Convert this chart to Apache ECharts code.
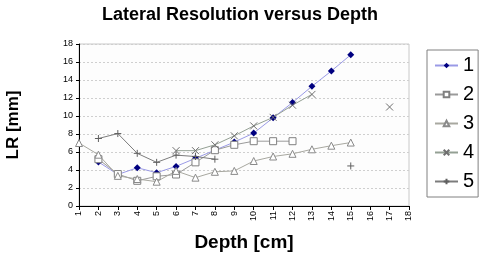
<!DOCTYPE html>
<html><head><meta charset="utf-8">
<script src="https://cdn.jsdelivr.net/npm/echarts@6/dist/echarts.min.js"></script>
<style>html,body{margin:0;padding:0;background:#fff}#c{width:480px;height:254px}</style>
</head><body><div id="c"></div>
<script>
var depth = [1,2,3,4,5,6,7,8,9,10,11,12,13,14,15,16,17,18];
var s1 = [null,4.9,3.5,4.25,3.7,4.4,5.3,6.2,7.1,8.1,9.8,11.5,13.3,15.0,16.8,null,null,null];
var s2 = [null,5.2,3.55,2.8,3.3,3.5,4.85,6.2,6.8,7.2,7.2,7.2,null,null,null,null,null,null];
var s3 = [7.0,5.7,3.35,3.0,2.7,3.9,3.15,3.8,3.9,5.0,5.5,5.8,6.3,6.7,7.05,null,null,null];
var s4 = [null,null,null,null,null,6.15,6.15,6.8,7.8,8.9,9.85,11.2,12.4,null,null,null,11.0,null];
var s5 = [null,7.5,8.05,5.85,4.85,5.65,5.5,5.2,null,null,null,null,null,null,4.45,null,null,null];
var seriesNames = ['1','2','3','4','5'];
var yTicks = [0,2,4,6,8,10,12,14,16,18];

function pairs(arr){ return depth.map(function(d,i){ return [d, arr[i]==null ? '-' : arr[i]]; }); }

var crossPath = 'path://M0,0L10,10M10,0L0,10';
var plusPath = 'path://M5,0L5,10M0,5L10,5';

var chart = echarts.init(document.getElementById('c'), null, {renderer:'canvas'});
chart.setOption({
  animation:false,
  backgroundColor:'#fff',
  title:{text:'Lateral Resolution versus Depth', left:'center', top:1,
    textStyle:{fontFamily:'Liberation Sans', fontWeight:'bold', fontSize:18, color:'#000'}},
  grid:{left:79, right:71, top:44, bottom:48, show:true, borderColor:'#c8c8c8', borderWidth:1,
    backgroundColor:'#fdfdfd', containLabel:false, outerBoundsMode:'none'},
  legend:{orient:'vertical', left:427, top:50, width:52, padding:[5,4,5,7], itemGap:8,
    itemWidth:23, itemHeight:7, borderColor:'#808080', borderWidth:1, backgroundColor:'#fff',
    textStyle:{fontFamily:'Liberation Sans', fontSize:20, lineHeight:21, color:'#000', padding:[0,0,0,0]},
    data:seriesNames},
  xAxis:{type:'value', min:1, max:18, interval:1,
    axisLine:{show:true, onZero:false, lineStyle:{color:'#000', width:1}},
    axisTick:{show:true, length:4, lineStyle:{color:'#000'}},
    splitLine:{show:false},
    axisLabel:{rotate:90, fontFamily:'Liberation Sans', fontSize:9, color:'#000', margin:5,
      formatter:function(v){return String(v);}},
    name:'Depth [cm]', nameLocation:'middle', nameGap:27,
    nameTextStyle:{fontFamily:'Liberation Sans', fontWeight:'bold', fontSize:19, color:'#000'}},
  yAxis:{type:'value', min:0, max:18, interval:2,
    axisLine:{show:true, lineStyle:{color:'#000', width:1}},
    axisTick:{show:true, length:3, lineStyle:{color:'#000'}},
    splitLine:{show:true, lineStyle:{color:'#cfcfcf', type:[2,2], width:1}},
    axisLabel:{fontFamily:'Liberation Sans', fontSize:9, color:'#000', margin:6},
    name:'LR [mm]', nameLocation:'middle', nameGap:57, nameRotate:90,
    nameTextStyle:{fontFamily:'Liberation Sans', fontWeight:'bold', fontSize:17, color:'#000'}},
  series:[
    {name:'1', type:'line', data:pairs(s1), symbol:'diamond', symbolSize:7,
      lineStyle:{color:'#9a9ae6', width:1}, itemStyle:{color:'#000080'}},
    {name:'2', type:'line', data:pairs(s2), symbol:'rect', symbolSize:7,
      lineStyle:{color:'#9a9a9a', width:1}, itemStyle:{color:'#ffffff', borderColor:'#808080', borderWidth:1}},
    {name:'3', type:'line', data:pairs(s3), symbol:'triangle', symbolSize:7,
      lineStyle:{color:'#a8a8a0', width:1}, itemStyle:{color:'#ffffff', borderColor:'#8a8a8a', borderWidth:1}},
    {name:'4', type:'line', data:pairs(s4), symbol:crossPath, symbolSize:7,
      lineStyle:{color:'#94a094', width:1}, itemStyle:{color:'transparent', borderColor:'#707070', borderWidth:1}},
    {name:'5', type:'line', data:pairs(s5), symbol:plusPath, symbolSize:7,
      lineStyle:{color:'#7c7c7c', width:1}, itemStyle:{color:'transparent', borderColor:'#606060', borderWidth:1}}
  ]
});
</script></body></html>
